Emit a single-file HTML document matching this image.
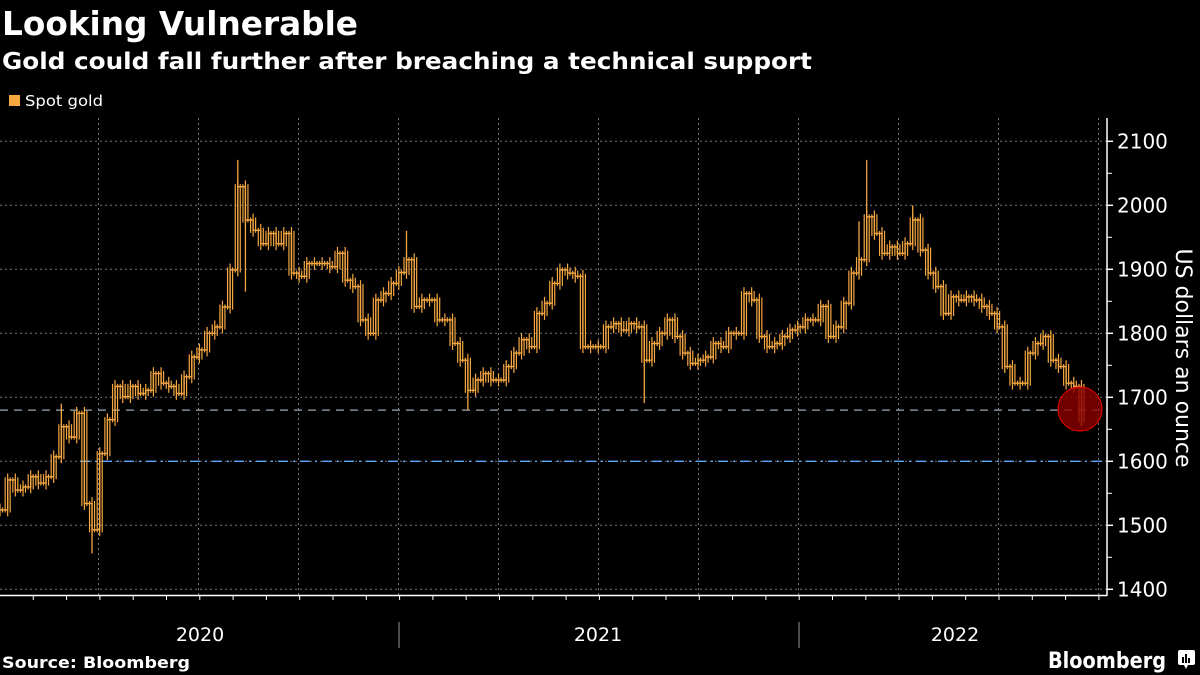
<!DOCTYPE html>
<html><head><meta charset="utf-8"><style>
html,body{margin:0;padding:0;background:#000;width:1200px;height:675px;overflow:hidden}
svg{display:block}
text{font-family:"DejaVu Sans","Liberation Sans",sans-serif;fill:#fff}
</style></head><body>
<svg id="chart" width="1200" height="675" viewBox="0 0 1200 675">
<text x="2" y="35" font-size="33" font-weight="bold" textLength="356" lengthAdjust="spacingAndGlyphs">Looking Vulnerable</text>
<text x="2" y="69" font-size="23" font-weight="bold" textLength="810" lengthAdjust="spacingAndGlyphs">Gold could fall further after breaching a technical support</text>
<rect x="9" y="95" width="11" height="11" fill="#f5a742"/>
<text x="25" y="106" font-size="15" textLength="78" lengthAdjust="spacingAndGlyphs">Spot gold</text>
<g id="grid"></g>
<g id="refs"></g>
<g id="series"></g>
<g id="axes"></g>
<text transform="translate(1176,358) rotate(90)" text-anchor="middle" font-size="22">US dollars an ounce</text>
<text x="2" y="668" font-size="16" font-weight="bold" textLength="188" lengthAdjust="spacingAndGlyphs">Source: Bloomberg</text>
<text x="1048" y="668" font-size="22" font-weight="bold" textLength="118" lengthAdjust="spacingAndGlyphs">Bloomberg</text>
<g><rect x="1178" y="650" width="17" height="15" rx="2" fill="#fff"/><path d="M1184 665 l2 4 l2 -4z" fill="#fff"/><rect x="1182" y="657" width="2" height="6" fill="#000"/><rect x="1185" y="654" width="2" height="9" fill="#000"/><rect x="1188" y="658" width="2" height="5" fill="#000"/></g>
</svg>
<script>
const closes=[1524,1571,1555,1560,1576,1566,1576,1607,1654,1638,1675,1534,1493,1612,1665,1717,1701,1717,1706,1711,1737,1722,1717,1706,1732,1763,1774,1800,1810,1841,1899,2029,1977,1961,1940,1956,1940,1956,1894,1889,1909,1909,1909,1904,1925,1883,1873,1821,1800,1852,1862,1878,1895,1915,1842,1852,1852,1821,1821,1784,1758,1711,1727,1737,1727,1727,1748,1769,1790,1779,1831,1847,1878,1899,1894,1889,1779,1779,1779,1810,1815,1805,1815,1810,1758,1784,1800,1821,1795,1769,1753,1758,1763,1784,1779,1800,1800,1862,1852,1795,1779,1784,1795,1805,1810,1821,1821,1842,1795,1810,1847,1894,1915,1982,1956,1925,1935,1925,1940,1977,1930,1894,1873,1831,1857,1852,1857,1852,1842,1831,1810,1748,1722,1722,1769,1784,1795,1758,1748,1722,1717,1665];
const wickWeeks=[8,12,31,32,53,61,84,112,113,119,141];
const wickValues=[1690,1456,2071,1865,1960,1680,1691,1975,2071,2000,1655];
const yTicks=[1400,1500,1600,1700,1800,1900,2000,2100];
const yearLabels=["2020","2021","2022"];
const refLevels=[1680,1600];
const NS="http://www.w3.org/2000/svg";
const X0=0,WEEKPX=7.67,Y0=141.3,PXPER=0.64;
function xS(w){return X0+w*WEEKPX;}
function yS(v){return Y0+(2100-v)*PXPER;}
function mk(tag,attrs,parent){const e=document.createElementNS(NS,tag);for(const k in attrs)e.setAttribute(k,attrs[k]);parent.appendChild(e);return e;}
const grid=document.getElementById('grid'),axes=document.getElementById('axes'),refs=document.getElementById('refs'),series=document.getElementById('series');
yTicks.forEach(v=>{
 const l=mk('line',{x1:0,x2:1107,y1:yS(v),y2:yS(v),stroke:'#777','stroke-width':1,'stroke-dasharray':'2,3'},grid);
 
 
 const t=mk('line',{x1:1107,x2:1113,y1:yS(v),y2:yS(v),stroke:'#fff','stroke-width':1.5},axes);
 
 
 const tx=mk('text',{x:1117,y:yS(v)+7,'font-size':20},axes);
 tx.textContent=v;
 
 
 if(v<2100){const m=mk('line',{x1:1107,x2:1112,y1:yS(v+50),y2:yS(v+50),stroke:'#fff','stroke-width':1},axes);
 
 }
});
for(let q=1;q<=11;q++){const x=98.5+(q-1)*100;
 const l=mk('line',{x1:x,x2:x,y1:118,y2:595,stroke:'#777','stroke-width':1,'stroke-dasharray':'2,3'},grid);
 
 }
const a1=mk('line',{x1:0,x2:1107,y1:595.5,y2:595.5,stroke:'#fff','stroke-width':1.5},axes);


const a2=mk('line',{x1:1107,x2:1107,y1:118,y2:596,stroke:'#fff','stroke-width':1.5},axes);


for(let m=1;m<=33;m++){const x=m*33.3;
 const t=mk('line',{x1:x,x2:x,y1:595,y2:600,stroke:'#fff','stroke-width':1},axes);
 
 }
[399,799].forEach(x=>{const s=mk('line',{x1:x,x2:x,y1:622,y2:648,stroke:'#999','stroke-width':1},axes);
 
 });
yearLabels.forEach((y,i)=>{const cx=[200,598,955][i];
 const t=mk('text',{x:cx,y:641,'font-size':19,'text-anchor':'middle'},axes);t.textContent=y;
 
 });
refLevels.forEach((v,i)=>{const l=mk('line',{x1:i?80:0,x2:1107,y1:yS(v),y2:yS(v),stroke:i?'#5aa8ff':'#9aa8b8','stroke-width':1.3,'stroke-dasharray':i?'10,5,2,5':'8,6'},refs);
 
 });
let d='M'+xS(0)+' '+yS(closes[0]);
for(let i=1;i<closes.length;i++){d+=' H'+xS(i).toFixed(1)+' V'+yS(closes[i]).toFixed(1);}
const p=mk('path',{d:d,fill:'none',stroke:'#f5a742','stroke-width':1.4},series);


closes.forEach((v,i)=>{const pv=i?closes[i-1]:v;
 const hi=Math.max(v,pv)+10,lo=Math.min(v,pv)-10;
 [-2.5,0,2.5].forEach(o=>{
 const b=mk('line',{x1:xS(i)+o,x2:xS(i)+o,y1:yS(hi-(o?6:0)),y2:yS(lo+(o?6:0)),stroke:'#f5a742','stroke-width':1.2},series);
 
 });});
wickWeeks.forEach((w,i)=>{const b=mk('line',{x1:xS(w),x2:xS(w),y1:yS(closes[w]),y2:yS(wickValues[i]),stroke:'#f5a742','stroke-width':1.3},series);
 
 });
const c=mk('circle',{cx:1080,cy:409,r:22,fill:'rgba(140,0,0,0.8)',stroke:'#e00','stroke-width':1},series);


</script>
</body></html>
